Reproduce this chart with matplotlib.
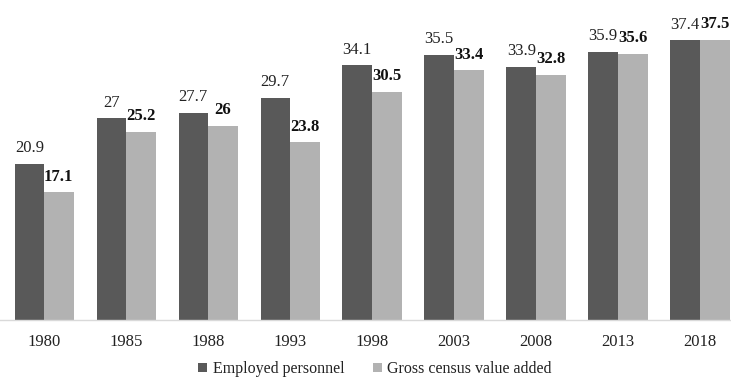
import matplotlib
matplotlib.use("Agg")
import matplotlib.pyplot as plt
import numpy as np

years = ["1980", "1985", "1988", "1993", "1998", "2003", "2008", "2013", "2018"]
employed = [20.9, 27, 27.7, 29.7, 34.1, 35.5, 33.9, 35.9, 37.4]
gross_value = [17.1, 25.2, 26, 23.8, 30.5, 33.4, 32.8, 35.6, 37.5]
employed_labels = ["20.9", "27", "27.7", "29.7", "34.1", "35.5", "33.9", "35.9", "37.4"]
gross_labels = ["17.1", "25.2", "26", "23.8", "30.5", "33.4", "32.8", "35.6", "37.5"]

plt.rcParams["font.family"] = ["Liberation Serif", "DejaVu Serif"]

dark = "#595959"
light = "#b2b2b2"

fig = plt.figure(figsize=(7.31, 3.81), dpi=100)
ax = fig.add_axes([0, 61 / 381, 1, 320 / 381])

x = np.arange(len(years))
w = 0.36
ax.bar(x - w / 2, employed, w, color=dark, label="Employed personnel")
ax.bar(x + w / 2, gross_value, w, color=light, label="Gross census value added")

for xi, v, s in zip(x, employed, employed_labels):
    ax.text(xi - w / 2, v + 1.0, s, ha="center", va="bottom", fontsize=12, color="#222222")
for xi, v, s in zip(x, gross_value, gross_labels):
    ax.text(xi + w / 2, v + 1.0, s, ha="center", va="bottom", fontsize=12,
            fontweight="bold", color="#111111")

ax.set_xlim(-0.537, 8.378)
ax.set_ylim(0, 42.8)
ax.set_xticks(x)
ax.set_xticklabels(years, fontsize=12, color="#222222")
ax.tick_params(axis="x", length=0, pad=10)
ax.set_yticks([])
for side in ["top", "right", "left"]:
    ax.spines[side].set_visible(False)
ax.spines["bottom"].set_color("#d9d9d9")
ax.spines["bottom"].set_linewidth(1)

leg = fig.legend(loc="lower center", bbox_to_anchor=(0.513, -0.028), ncol=2, frameon=False,
                 fontsize=11.5, handlelength=0.55, handleheight=0.55, handletextpad=0.35,
                 columnspacing=1.8)
for t in leg.get_texts():
    t.set_color("#222222")

fig.savefig("out.png", dpi=100)
